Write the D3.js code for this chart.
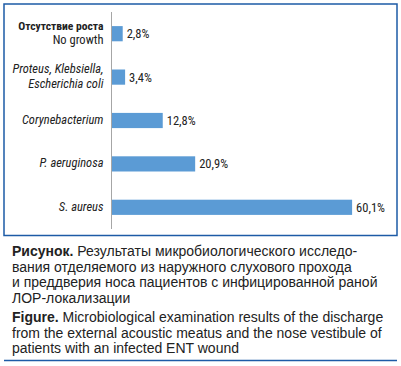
<!DOCTYPE html>
<html>
<head>
<meta charset="utf-8">
<script src="https://cdn.jsdelivr.net/npm/d3@7"></script>
<style>
  body { margin:0; background:#fff; }
  svg { display:block; }
</style>
</head>
<body>
<svg id="drawing_region"></svg>
<script>
// categories (top to bottom), each label is split into lines
const categories = ["none", "proteus", "coryne", "paeru", "saureus"];
const labelLines = [
  ["Отсутствие роста", "No growth"],
  ["Proteus, Klebsiella,", "Escherichia coli"],
  ["Corynebacterium"],
  ["P. aeruginosa"],
  ["S. aureus"]
];
const values = [2.8, 3.4, 12.8, 20.9, 60.1];
const valueLabels = ["2,8%", "3,4%", "12,8%", "20,9%", "60,1%"];

const captionRu = [
  "Результаты микробиологического исследо-",
  "вания отделяемого из наружного слухового прохода",
  "и преддверия носа пациентов с инфицированной раной",
  "ЛОР-локализации"
];
const captionEn = [
  "Microbiological examination results of the discharge",
  "from the external acoustic meatus and the nose vestibule of",
  "patients with an infected ENT wound"
];

class BarChart {

  constructor( config, data ) {
    this.config = {
      parent: config.parent,
      width: config.width || 401,
      height: config.height || 366,
      margin: config.margin || {top:12, right:10, bottom:10, left:111.5}
    }
    this.data = data;
    this.init();
  }

  init() {
    let self = this;

    self.svg = d3.select(self.config.parent)
      .attr('width', self.config.width)
      .attr('height', self.config.height);

    // frame round the chart
    self.svg.append('rect')
      .attr('x', 4).attr('y', 4)
      .attr('width', 393).attr('height', 231.5)
      .attr('fill', 'none')
      .attr('stroke', '#1d5ba6')
      .attr('stroke-width', 1.5);

    self.chart = self.svg.append('g')
      .attr('transform', `translate(${self.config.margin.left}, ${self.config.margin.top})`);

    self.inner_height = 217;

    self.xscale = d3.scaleLinear()
      .domain([0, 60.1])
      .range([0, 240.6]);

    self.yscale = d3.scaleBand()
      .domain(categories)
      .range([0, self.inner_height])
      .paddingInner(0.65)
      .paddingOuter(0.325);
  }

  update() {
    let self = this;
    self.render();
  }

  render() {
    let self = this;
    const narrow = '"Liberation Sans Narrow", "Roboto Condensed", "Liberation Sans", sans-serif';

    self.chart.selectAll('rect.bar')
      .data(self.data)
      .join('rect')
      .attr('class', 'bar')
      .attr('x', 0)
      .attr('y', d => self.yscale(d.key))
      .attr('width', d => self.xscale(d.value))
      .attr('height', self.yscale.bandwidth())
      .attr('fill', '#5b9bd5');

    // vertical axis line
    self.chart.append('line')
      .attr('x1', 0).attr('x2', 0)
      .attr('y1', 0).attr('y2', self.inner_height)
      .attr('stroke', '#a6a6a6')
      .attr('stroke-width', 1);

    self.chart.selectAll('text.value')
      .data(self.data)
      .join('text')
      .attr('class', 'value')
      .attr('x', d => self.xscale(d.value) + 4)
      .attr('y', d => self.yscale(d.key) + self.yscale.bandwidth()/2)
      .attr('dy', '0.36em')
      .attr('font-family', narrow)
      .attr('font-size', 12.5)
      .attr('fill', '#222')
      .text(d => d.text);

    const labels = self.chart.selectAll('text.label')
      .data(self.data)
      .join('text')
      .attr('class', 'label')
      .attr('text-anchor', 'end')
      .attr('font-family', narrow)
      .attr('font-size', 12.5)
      .attr('fill', '#222')
      .attr('font-style', (d,i) => i == 0 ? 'normal' : 'italic')
      .attr('transform', d => `translate(-8, ${self.yscale(d.key) + self.yscale.bandwidth()/2 - 1})`);

    labels.selectAll('tspan')
      .data((d,i) => d.lines.map((t,j) => ({t:t, j:j, n:d.lines.length, first:i})))
      .join('tspan')
      .attr('x', 0)
      .attr('y', d => (d.j - (d.n-1)/2) * 14.5)
      .attr('dy', '0.36em')
      .attr('font-weight', d => (d.first == 0 && d.j == 0) ? 'bold' : 'normal')
      .attr('font-size', d => (d.first == 0 && d.j == 0) ? 11.6 : null)
      .text(d => d.t);

    // caption under the frame
    const cap = self.svg.append('g')
      .attr('font-family', '"Liberation Sans", Arial, sans-serif')
      .attr('font-size', 14)
      .attr('fill', '#222');

    const ruY = d3.range(captionRu.length).map(i => 256 + i*15.5);
    cap.selectAll('text.ru')
      .data(captionRu)
      .join('text')
      .attr('class', 'ru')
      .attr('x', 12)
      .attr('y', (d,i) => ruY[i])
      .each(function(d,i){
        const t = d3.select(this);
        if(i == 0){
          t.append('tspan').attr('font-weight', 'bold').text('Рисунок. ');
        }
        t.append('tspan').text(d);
      });

    const enY = d3.range(captionEn.length).map(i => 322 + i*15.5);
    cap.selectAll('text.en')
      .data(captionEn)
      .join('text')
      .attr('class', 'en')
      .attr('x', 12)
      .attr('y', (d,i) => enY[i])
      .each(function(d,i){
        const t = d3.select(this);
        if(i == 0){
          t.append('tspan').attr('font-weight', 'bold').text('Figure. ');
        }
        t.append('tspan').text(d);
      });

    self.svg.append('line')
      .attr('x1', 4).attr('x2', 397)
      .attr('y1', 360.5).attr('y2', 360.5)
      .attr('stroke', '#1d5ba6')
      .attr('stroke-width', 1.5);
  }
}

const input_data = categories.map((c,i) => ({
  key: c,
  lines: labelLines[i],
  value: values[i],
  text: valueLabels[i]
}));

const bar_chart = new BarChart({
  parent: '#drawing_region',
  width: 401,
  height: 366
}, input_data);
bar_chart.update();
</script>
</body>
</html>
